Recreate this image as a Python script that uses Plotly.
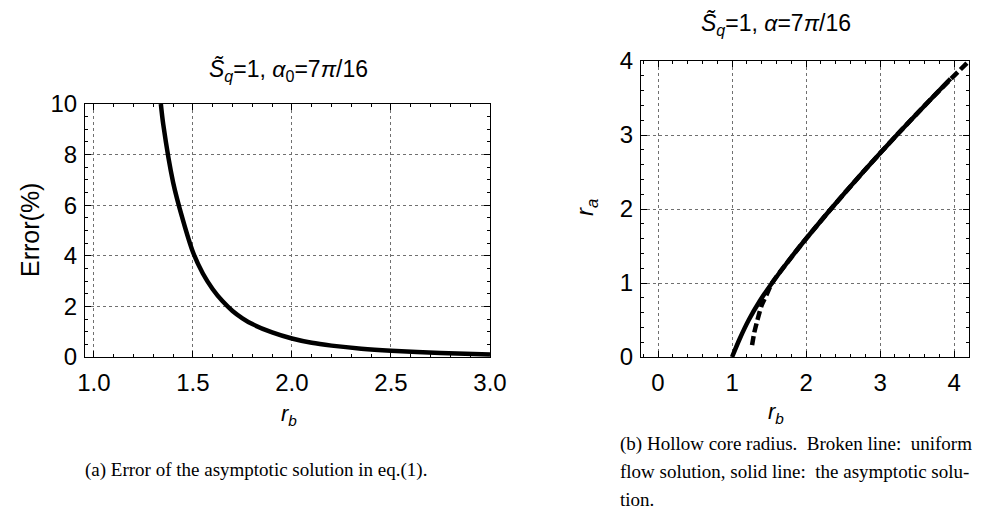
import plotly.graph_objects as go

# Panel (a): error of the asymptotic solution
err_rb = [1.338, 1.35, 1.40, 1.45, 1.50, 1.55, 1.60, 1.65, 1.70, 1.75, 1.80, 1.90, 2.0, 2.1, 2.2, 2.35, 2.5, 2.75, 3.0]
err_pct = [10.0, 9.2, 6.9, 5.4, 4.15, 3.3, 2.68, 2.2, 1.82, 1.53, 1.3, 0.97, 0.73, 0.56, 0.45, 0.33, 0.25, 0.16, 0.1]

# Panel (b): hollow core radius
asym_rb = [1.0, 1.105, 1.225, 1.37, 1.54, 1.725, 1.92, 2.125, 2.335, 2.77, 3.225, 3.70, 3.95]
asym_ra = [0.0, 0.25, 0.5, 0.75, 1.0, 1.25, 1.5, 1.75, 2.0, 2.5, 3.0, 3.5, 3.76]
unif_rb = [1.27, 1.30, 1.34, 1.40, 1.47, 1.54, 1.725, 1.92, 2.125, 2.335, 2.77, 3.225, 3.70, 4.2]
unif_ra = [0.16, 0.33, 0.49, 0.70, 0.85, 1.0, 1.25, 1.5, 1.75, 2.0, 2.5, 3.0, 3.5, 4.0]

xticks_a = [1.0, 1.5, 2.0, 2.5, 3.0]
yticks_a = [0, 2, 4, 6, 8, 10]
xticks_b = [0, 1, 2, 3, 4]
yticks_b = [0, 1, 2, 3, 4]

W, H = 982, 517
def px(x):
    return x / W
def py(y):
    return 1 - y / H

fig = go.Figure()
fig.add_trace(go.Scatter(x=err_rb, y=err_pct, mode="lines", xaxis="x", yaxis="y",
                         line=dict(color="black", width=4.5, shape="spline", smoothing=0.8),
                         showlegend=False))
fig.add_trace(go.Scatter(x=asym_rb, y=asym_ra, mode="lines", xaxis="x2", yaxis="y2",
                         line=dict(color="black", width=4.5, shape="spline", smoothing=0.8),
                         showlegend=False))
fig.add_trace(go.Scatter(x=unif_rb, y=unif_ra, mode="lines", xaxis="x2", yaxis="y2",
                         line=dict(color="black", width=4.5, dash="9px,4px", shape="spline", smoothing=0.8),
                         showlegend=False))

tickfont = dict(family="Liberation Sans, Arial, sans-serif", size=24, color="black")
common = dict(showline=True, linecolor="black", linewidth=1.2, mirror="ticks",
              ticks="inside", ticklen=6, tickwidth=1, tickcolor="black",
              showgrid=True, gridcolor="#707070", griddash="dot", gridwidth=1,
              zeroline=False, tickfont=tickfont, fixedrange=True, automargin=False)

fig.update_layout(
    width=W, height=H, margin=dict(l=0, r=0, t=0, b=0, autoexpand=False),
    paper_bgcolor="white", plot_bgcolor="white",
    xaxis=dict(domain=[px(77), px(482)], range=[0.955, 3.0], tickvals=xticks_a,
               ticktext=["%.1f" % v for v in xticks_a], anchor="y",
               minor=dict(dtick=0.1, ticks="inside", ticklen=3, tickcolor="black", showgrid=False),
               ticklabelstandoff=4, **common),
    yaxis=dict(domain=[py(349), py(96)], range=[0, 10], tickvals=yticks_a, anchor="x",
               minor=dict(dtick=0.5, ticks="inside", ticklen=3, tickcolor="black", showgrid=False),
               ticklabelstandoff=2, **common),
    xaxis2=dict(domain=[px(633), px(961)], range=[-0.23, 4.2], tickvals=xticks_b, anchor="y2",
                minor=dict(dtick=0.2, ticks="inside", ticklen=3, tickcolor="black", showgrid=False),
                ticklabelstandoff=4, **common),
    yaxis2=dict(domain=[py(349), py(53)], range=[0, 4], tickvals=yticks_b, anchor="x2",
                minor=dict(dtick=0.2, ticks="inside", ticklen=3, tickcolor="black", showgrid=False),
                ticklabelstandoff=2, **common),
)

sans = "Liberation Sans, Arial, sans-serif"
serif = "Liberation Serif, Times New Roman, serif"
def ann(text, x, y, size=18, family=sans, angle=0, xanchor="center"):
    fig.add_annotation(text=text, x=px(x), y=py(y), xref="paper", yref="paper",
                       showarrow=False, font=dict(family=family, size=size, color="black"),
                       textangle=angle, xanchor=xanchor, yanchor="middle")

ann("<i>S̃</i><sub><i>q</i></sub>=1, <i>α</i><sub>0</sub>=7<i>π</i>/16", 280, 62, size=23)
ann("<i>S̃</i><sub><i>q</i></sub>=1, <i>α</i>=7<i>π</i>/16", 768, 16, size=23)
ann("Error(%)", 22, 222, size=25, angle=-90)
ann("<i>r</i><sub><i>b</i></sub>", 281, 407, size=22)
ann("<i>r</i><sub><i>a</i></sub>", 578, 200, size=24, angle=-90)
ann("<i>r</i><sub><i>b</i></sub>", 768, 405, size=22)

ann("(a) Error of the asymptotic solution in eq.(1).", 75, 462, size=19, family=serif, xanchor="left")
ann("(b) Hollow core radius.  Broken line:  uniform", 610, 436, size=19, family=serif, xanchor="left")
ann("flow solution, solid line:  the asymptotic solu-", 610, 463, size=19, family=serif, xanchor="left")
ann("tion.", 610, 491, size=19, family=serif, xanchor="left")

fig.write_html("out.html")
